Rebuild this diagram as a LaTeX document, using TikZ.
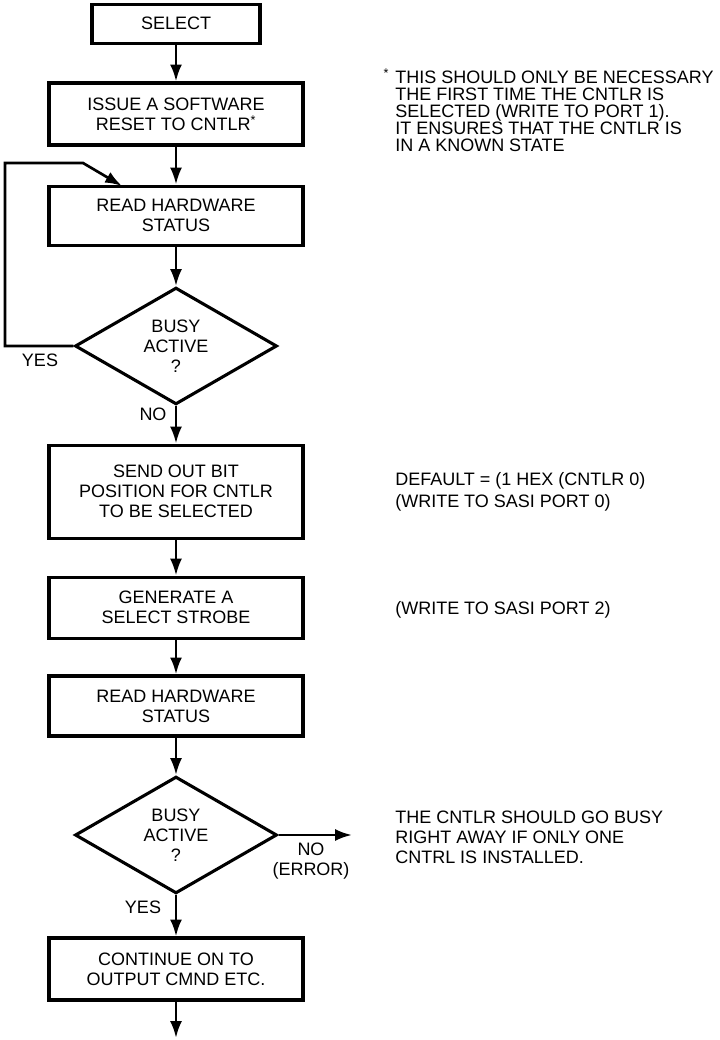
\documentclass[tikz,border=0pt]{standalone}
\usepackage{fontspec}
\setmainfont{Liberation Sans}
\usetikzlibrary{shapes.geometric,arrows.meta}

\tikzset{
    box/.style={draw, line width=2.2pt, minimum width=6.35cm, align=center, inner sep=2pt},
    decision/.style={diamond, draw, line width=2.2pt, minimum width=5.05cm, minimum height=2.92cm,
        aspect=1.72, inner sep=0pt, align=center},
    flow/.style={-{Latex[length=12pt,width=8.5pt]}, line width=1.9pt},
    note/.style={anchor=north west, inner sep=0pt, align=left},
}

\begin{document}
\begin{tikzpicture}[font=\fontsize{12.8}{14.2}\selectfont]
    \useasboundingbox (0,0) rectangle (17.975,26);

    \node[box, minimum width=4.2cm, minimum height=0.975cm] (select) at (4.4,25.41) {SELECT};
    \node[box, minimum height=1.55cm] (reset) at (4.4,23.15) {ISSUE A SOFTWARE\\RESET TO CNTLR\textsuperscript{*}};
    \node[box, minimum height=1.475cm] (read1) at (4.4,20.61) {READ HARDWARE\\STATUS};
    \node[decision] (busy1) at (4.4,17.35) {BUSY\\ACTIVE\\?};
    \node[box, minimum height=2.325cm] (send) at (4.4,13.71) {SEND OUT BIT\\POSITION FOR CNTLR\\TO BE SELECTED};
    \node[box, minimum height=1.525cm] (strobe) at (4.4,10.81) {GENERATE A\\SELECT STROBE};
    \node[box, minimum height=1.5cm] (read2) at (4.4,8.35) {READ HARDWARE\\STATUS};
    \node[decision] (busy2) at (4.4,5.125) {BUSY\\ACTIVE\\?};
    \node[box, minimum height=1.55cm] (cont) at (4.4,1.775) {CONTINUE ON TO\\OUTPUT CMND ETC.};
    \coordinate (out) at (4.4,0.05);

    \draw[flow] (select) -- (reset);
    \draw[flow] (reset) -- (read1);
    \draw[flow] (read1) -- (busy1);
    \draw[flow] (busy1) -- (send);
    \draw[flow] (send) -- (strobe);
    \draw[flow] (strobe) -- (read2);
    \draw[flow] (read2) -- (busy2);
    \draw[flow] (busy2) -- (cont);
    \draw[flow] (cont) -- (out);

    \coordinate (loopin) at (3.05,21.35);
    \draw[flow] (busy1.west) -- (0.125,17.35) |- (2.075,21.925) -- (loopin);
    \node (yes1) at (1.0,17.0) {YES};
    \node (no1) at (3.825,15.65) {NO};

    \coordinate (error) at (8.8,5.125);
    \draw[flow] (busy2.east) -- (error);
    \node[align=center] (no2) at (7.775,4.475) {NO\\(ERROR)};
    \node (yes2) at (3.575,3.325) {YES};

    \node[note, font=\fontsize{12.8}{12.1}\selectfont] (n1) at (9.875,24.29)
        {\llap{\textsuperscript{*}\,\,}THIS SHOULD ONLY BE NECESSARY\\THE FIRST TIME THE CNTLR IS\\SELECTED (WRITE TO PORT 1).\\IT ENSURES THAT THE CNTLR IS\\IN A KNOWN STATE};
    \node[note, font=\fontsize{12.8}{15.4}\selectfont] (n2) at (9.875,14.19)
        {DEFAULT = (1 HEX (CNTLR 0)\\(WRITE TO SASI PORT 0)};
    \node[note] (n3) at (9.875,10.96) {(WRITE TO SASI PORT 2)};
    \node[note] (n4) at (9.875,5.74)
        {THE CNTLR SHOULD GO BUSY\\RIGHT AWAY IF ONLY ONE\\CNTRL IS INSTALLED.};
\end{tikzpicture}
\end{document}
